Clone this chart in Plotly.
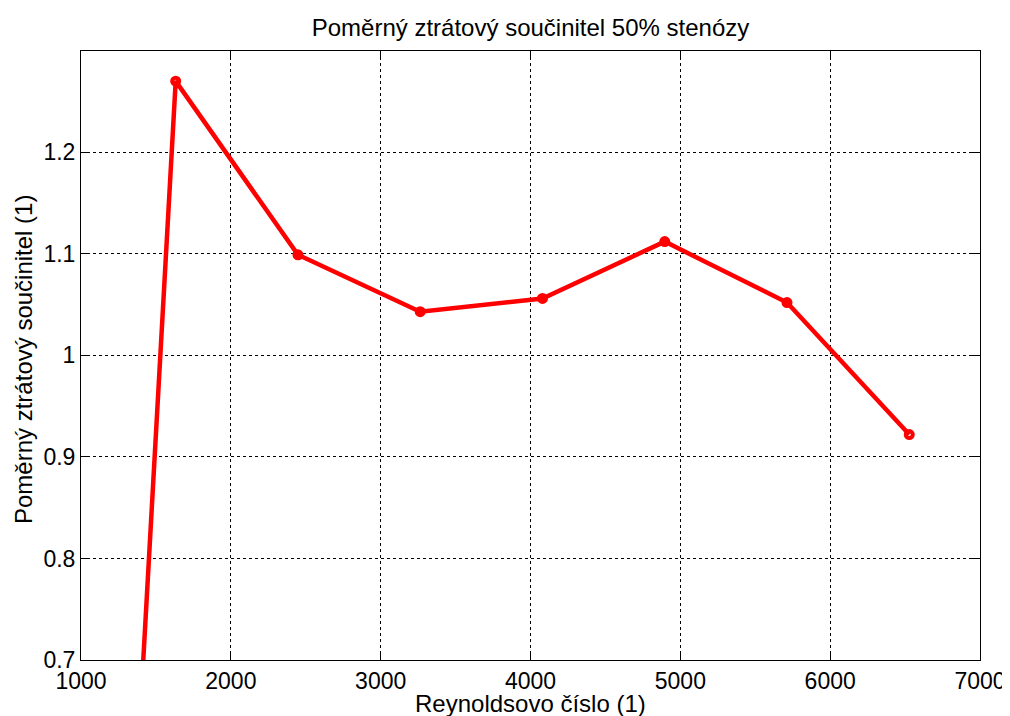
import plotly.graph_objects as go

re_number = [816, 1632, 2448, 3264, 4080, 4896, 5712, 6528]
loss_coef = [-0.88, 1.270, 1.099, 1.043, 1.056, 1.112, 1.052, 0.922]

x_ticks = [1000, 2000, 3000, 4000, 5000, 6000, 7000]
y_ticks = [0.7, 0.8, 0.9, 1.0, 1.1, 1.2]
y_tick_text = ["0.7", "0.8", "0.9", "1", "1.1", "1.2"]

FONT = "Liberation Sans, Arial, sans-serif"
FS = 23
FS_T = 24
OFF = 8  # page body offset

PL, PT, PW, PH = 81, 51, 899, 609

fig = go.Figure()
fig.add_trace(go.Scatter(
    x=re_number, y=loss_coef, mode="lines+markers",
    line=dict(color="#FF0000", width=4.5),
    marker=dict(symbol="circle-open", size=7, color="#FF0000", line=dict(width=4, color="#FF0000")),
    cliponaxis=True, showlegend=False,
))

axis_common = dict(
    showline=True, linecolor="black", linewidth=1, mirror="ticks",
    ticks="inside", ticklen=9, tickcolor="black", tickwidth=1,
    showgrid=True, gridcolor="black", gridwidth=1, griddash="3px,3px",
    zeroline=False, automargin=False,
    tickfont=dict(family=FONT, size=FS, color="black"),
)

fig.update_layout(
    width=1010, height=716,
    paper_bgcolor="white", plot_bgcolor="white",
    margin=dict(l=PL - OFF, r=1010 - (PL - OFF) - PW, t=PT - OFF, b=716 - (PT - OFF) - PH),
    title=dict(text="Poměrný ztrátový součinitel 50% stenózy", x=0.5, xanchor="center",
               xref="paper",
               y=1 - (28 - OFF) / 716, yanchor="middle", yref="container",
               font=dict(family=FONT, size=FS_T, color="black")),
    xaxis=dict(range=[1000, 7000], tickvals=x_ticks, **axis_common),
    yaxis=dict(range=[0.7, 1.2997], tickvals=y_ticks, ticktext=y_tick_text, **axis_common),
    annotations=[
        dict(text="Reynoldsovo číslo (1)", xref="paper", yref="paper",
             x=0.5, y=-(703 - (PT + PH)) / PH, xanchor="center", yanchor="middle",
             showarrow=False, font=dict(family=FONT, size=FS_T, color="black")),
        dict(text="Poměrný ztrátový součinitel (1)", xref="paper", yref="paper",
             x=-(PL - 24) / PW, y=(PT + PH - 360) / PH, xanchor="center", yanchor="middle",
             textangle=-90,
             showarrow=False, font=dict(family=FONT, size=FS_T, color="black")),
    ],
)

fig.write_html("out.html")
